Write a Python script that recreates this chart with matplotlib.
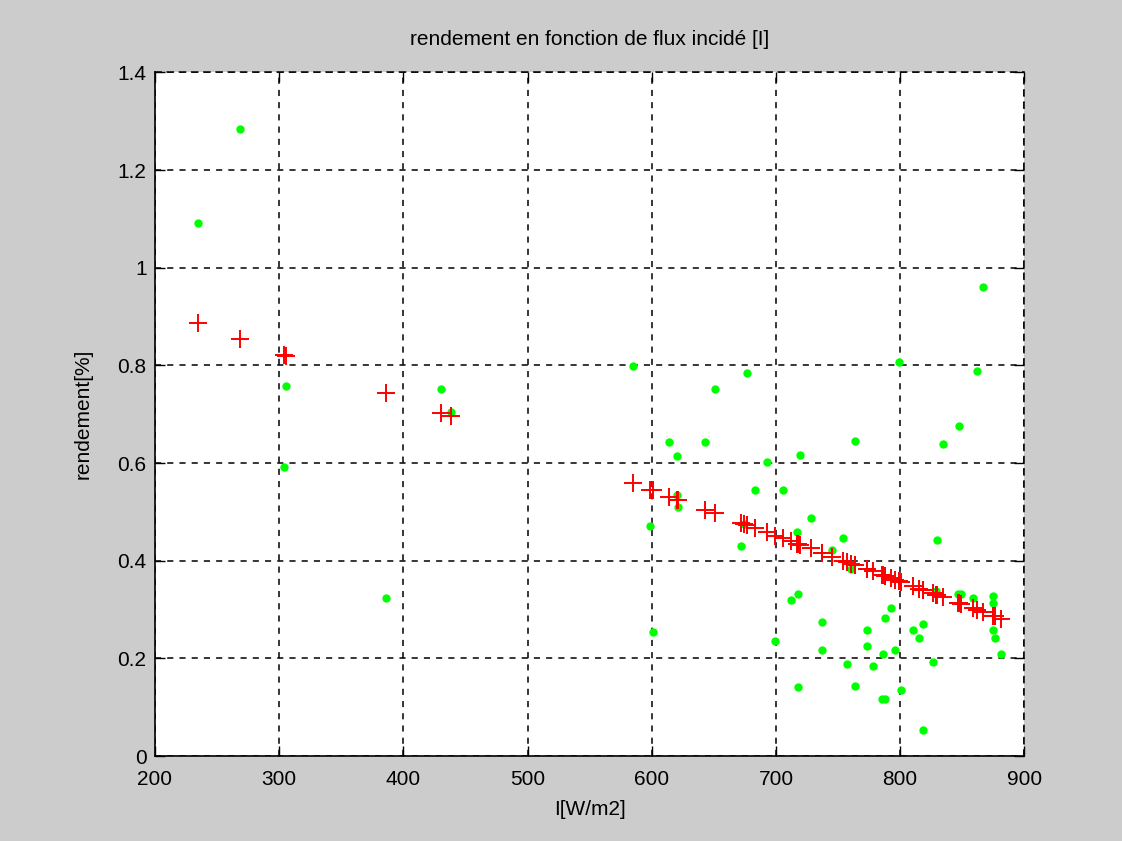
import matplotlib.pyplot as plt

# measured points (I in W/m2, rendement in %)
I_mes = [235.1, 268.6, 304.3, 305.6, 386.3, 430.1, 438.1, 584.6, 599.0, 600.9,
         613.8, 620.2, 620.5, 621.2, 642.7, 650.7, 671.7, 674.0, 676.7, 683.2,
         692.8, 699.6, 705.7, 711.9, 716.7, 718.1, 718.1, 719.1, 728.0, 737.4,
         737.4, 745.4, 754.0, 757.2, 760.7, 763.6, 763.6, 773.3, 773.3, 778.1,
         785.7, 786.3, 787.8, 787.8, 792.9, 795.8, 799.1, 800.7, 810.3, 815.2,
         818.4, 818.4, 826.4, 829.1, 829.6, 834.4, 846.2, 847.3, 848.9, 858.3,
         861.8, 866.9, 874.7, 874.7, 874.7, 876.3, 881.1]
rend_mes = [1.092, 1.284, 0.592, 0.757, 0.323, 0.752, 0.704, 0.798, 0.471, 0.254,
            0.643, 0.614, 0.535, 0.510, 0.643, 0.752, 0.431, 0.476, 0.785, 0.544,
            0.602, 0.236, 0.544, 0.320, 0.459, 0.332, 0.142, 0.617, 0.488, 0.275,
            0.218, 0.422, 0.446, 0.189, 0.383, 0.646, 0.144, 0.258, 0.225, 0.184,
            0.116, 0.209, 0.116, 0.283, 0.303, 0.218, 0.806, 0.136, 0.258, 0.242,
            0.270, 0.054, 0.192, 0.337, 0.442, 0.638, 0.332, 0.675, 0.332, 0.324,
            0.789, 0.961, 0.328, 0.314, 0.258, 0.242, 0.209]
# fitted values (red crosses)
rend_fit = [0.886, 0.854, 0.821, 0.820, 0.744, 0.703, 0.696, 0.559, 0.545, 0.544,
            0.531, 0.525, 0.525, 0.525, 0.504, 0.497, 0.477, 0.475, 0.473, 0.467,
            0.458, 0.451, 0.446, 0.440, 0.435, 0.434, 0.434, 0.433, 0.425, 0.416,
            0.416, 0.408, 0.400, 0.397, 0.394, 0.391, 0.391, 0.382, 0.382, 0.378,
            0.371, 0.370, 0.369, 0.369, 0.364, 0.361, 0.358, 0.357, 0.348, 0.343,
            0.340, 0.340, 0.333, 0.330, 0.330, 0.325, 0.314, 0.313, 0.312, 0.303,
            0.300, 0.295, 0.287, 0.287, 0.287, 0.286, 0.281]

xticks = [200, 300, 400, 500, 600, 700, 800, 900]
yticks = [0, 0.2, 0.4, 0.6, 0.8, 1, 1.2, 1.4]
yticklabels = ['0', '0.2', '0.4', '0.6', '0.8', '1', '1.2', '1.4']

plt.rcParams['font.family'] = ['Liberation Sans', 'DejaVu Sans']

fig = plt.figure(figsize=(11.22, 8.41), dpi=100, facecolor='#cccccc')
ax = fig.add_axes([0.138, 0.101, 0.775, 0.813])
ax.set_facecolor('white')

ax.plot(I_mes, rend_mes, 'o', color='#00ff00', markersize=6, markeredgewidth=0, zorder=3)
ax.plot(I_mes, rend_fit, '+', color='#ff0000', markersize=13, markeredgewidth=1.4, zorder=4)

ax.set_xlim(200, 900)
ax.set_ylim(0, 1.4)
ax.set_xticks(xticks)
ax.set_yticks(yticks)
ax.set_yticklabels(yticklabels)
ax.grid(True, color='black', linestyle=(0, (4, 4)), linewidth=1.1)
ax.tick_params(direction='in', top=True, right=True, length=7, width=1,
               labelsize=15, pad=6)
ax.tick_params(axis='x', pad=10)
for s in ['left', 'bottom']:
    ax.spines[s].set_linewidth(1.2)
for s in ['top', 'right']:
    ax.spines[s].set_linestyle((0, (4, 4)))
    ax.spines[s].set_linewidth(1.1)

ax.set_title('rendement en fonction de flux incidé [I]', fontsize=15, pad=20)
ax.set_xlabel('I[W/m2]', fontsize=15, labelpad=8)
ax.set_ylabel('rendement[%]', fontsize=15, labelpad=18)

fig.savefig('out.png', dpi=100, facecolor=fig.get_facecolor())
